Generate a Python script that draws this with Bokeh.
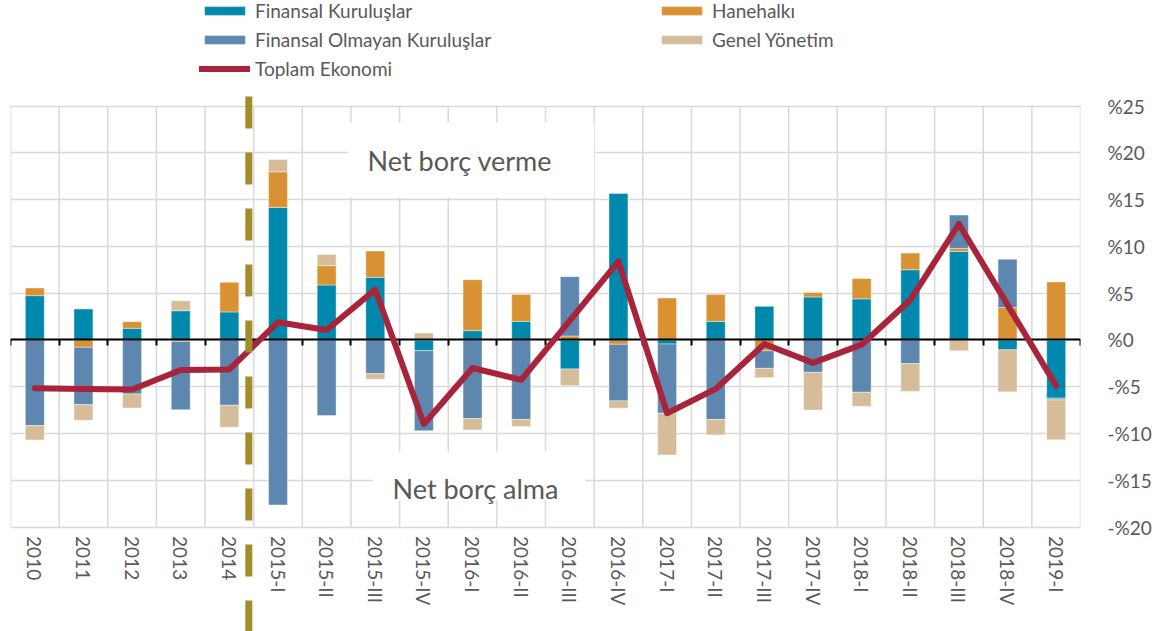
from bokeh.plotting import figure
from bokeh.models import (Range1d, LinearAxis, FixedTicker, Legend, LegendItem,
                          Label, BoxAnnotation)
from bokeh.embed import file_html
from bokeh.resources import INLINE

# ---------------- data ----------------
categories = ["2010", "2011", "2012", "2013", "2014",
              "2015-I", "2015-II", "2015-III", "2015-IV",
              "2016-I", "2016-II", "2016-III", "2016-IV",
              "2017-I", "2017-II", "2017-III", "2017-IV",
              "2018-I", "2018-II", "2018-III", "2018-IV", "2019-I"]

finansal_kuruluslar = [4.74, 3.31, 1.25, 3.13, 3.00, 14.17, 5.88, 6.70, -1.14,
                       1.00, 1.99, -3.10, 15.67, -0.43, 1.99, 3.60, 4.60,
                       4.40, 7.51, 9.47, -1.05, -6.22]
hanehalki = [0.82, -0.78, 0.71, -0.15, 3.17, 3.81, 2.07, 2.81, 0.00,
             5.45, 2.88, 0.43, -0.46, 4.49, 2.88, -1.14, 0.48,
             2.17, 1.78, 0.32, 3.47, 6.20]
finansal_olmayan = [-9.15, -6.13, -5.77, -7.30, -6.98, -17.63, -8.08, -3.60, -8.55,
                    -8.40, -8.51, 6.34, -6.05, -7.41, -8.51, -1.89, -3.46,
                    -5.59, -2.53, 3.56, 5.16, -0.18]
genel_yonetim = [-1.53, -1.67, -1.50, 1.07, -2.35, 1.32, 1.18, -0.60, 0.75,
                 -1.21, -0.75, -1.78, -0.78, -4.45, -1.64, -1.00, -4.03,
                 -1.50, -2.96, -1.15, -4.49, -4.27]
toplam_ekonomi = [-5.16, -5.23, -5.30, -3.20, -3.15, 1.90, 1.07, 5.38, -8.97,
                  -2.99, -4.27, 2.07, 8.40, -7.83, -5.23, -0.43, -2.45,
                  -0.50, 4.27, 12.40, 3.75, -4.90]

y_ticks = [-20, -15, -10, -5, 0, 5, 10, 15, 20, 25]
y_tick_labels = ["-%20", "-%15", "-%10", "-%5", "%0", "%5", "%10", "%15", "%20", "%25"]

series = [
    ("Finansal Kuruluşlar", finansal_kuruluslar, "#0089AC"),
    ("Hanehalkı", hanehalki, "#D99233"),
    ("Finansal Olmayan Kuruluşlar", finansal_olmayan, "#5D87AE"),
    ("Genel Yönetim", genel_yonetim, "#D5BD9A"),
]

# ---------------- figure ----------------
FONT = "Lato"
GRAY = "#595959"
GRID = "#D9D9D9"

n = len(categories)
xs = [i + 0.5 for i in range(n)]
boundaries = list(range(n + 1))

W, H = 1156, 631
p = figure(width=W, height=H,
           x_range=Range1d(0, n), y_range=Range1d(-31.16, 36.29),
           x_axis_location=None, y_axis_location="right",
           toolbar_location=None, output_backend="svg",
           min_border_left=10, min_border_right=76,
           min_border_top=0, min_border_bottom=0)
p.outline_line_color = None
p.background_fill_color = "white"
p.border_fill_color = "white"
p.xgrid.grid_line_color = None

yt = FixedTicker(ticks=y_ticks)
yax = p.yaxis[0]
yax.ticker = yt
yax.major_label_overrides = dict(zip(y_ticks, y_tick_labels))
yax.axis_line_color = None
yax.major_tick_line_color = None
yax.minor_tick_line_color = None
yax.major_label_standoff = 21
yax.major_label_text_font = FONT
yax.major_label_text_font_size = "19px"
yax.major_label_text_color = GRAY
p.ygrid.ticker = yt
p.ygrid.grid_line_color = GRID
p.ygrid.grid_line_width = 1.5

# vertical grid lines at category boundaries, only across the tick span
p.segment(x0=boundaries, y0=[min(y_ticks)] * len(boundaries),
          x1=boundaries, y1=[max(y_ticks)] * len(boundaries),
          line_color=GRID, line_width=1.5)

# white boxes behind the annotations
p.add_layout(BoxAnnotation(left=6.93, right=12.0, top=23.25, bottom=15.23,
                           fill_color="white", fill_alpha=1.0, line_color=None))
p.add_layout(BoxAnnotation(left=7.46, right=11.82, top=-11.92, bottom=-17.15,
                           fill_color="white", fill_alpha=1.0, line_color=None))

# stacked bars (positive and negative stacks separately)
pos_base = [0.0] * n
neg_base = [0.0] * n
bar_renderers = {}
for name, vals, color in series:
    bottoms, tops = [], []
    for i, v in enumerate(vals):
        if v >= 0:
            b = pos_base[i]
            t = b + v
            pos_base[i] = t
        else:
            b = neg_base[i]
            t = b + v
            neg_base[i] = t
        bottoms.append(b)
        tops.append(t)
    r = p.vbar(x=xs, bottom=bottoms, top=tops, width=0.39,
               fill_color=color, line_color="white", line_width=0.6, line_alpha=0.7)
    bar_renderers[name] = r

# zero axis with boundary ticks
zero_axis = LinearAxis(fixed_location=0, ticker=FixedTicker(ticks=boundaries),
                       axis_line_color="black", axis_line_width=2,
                       major_tick_in=0, major_tick_out=6,
                       major_tick_line_color="black", major_tick_line_width=2,
                       minor_tick_line_color=None, major_label_text_color=None)
p.add_layout(zero_axis, "below")

# category label axis at the bottom of the plot area
label_axis = LinearAxis(fixed_location=min(y_ticks), ticker=FixedTicker(ticks=xs),
                        major_label_overrides=dict(zip(xs, categories)),
                        axis_line_color=None, major_tick_line_color=None,
                        minor_tick_line_color=None,
                        major_tick_in=0, major_tick_out=0,
                        major_label_orientation="vertical",
                        major_label_standoff=9,
                        major_label_text_font=FONT,
                        major_label_text_font_size="19px",
                        major_label_text_color=GRAY)
p.add_layout(label_axis, "below")

# total economy line
line_r = p.line(xs, toplam_ekonomi, line_color="#A9233A", line_width=6,
                line_join="round", line_cap="round", level="annotation")

# vertical dashed separator
p.segment(x0=[4.9], y0=[26.03], x1=[4.9], y1=[-32.0],
          line_color="#A08E2A", line_width=7, line_dash="32 24", level="overlay")

# text annotations
p.add_layout(Label(x=9.24, y=19.19, text="Net borç verme", text_align="center",
                   text_baseline="alphabetic", text_font=FONT,
                   text_font_size="27px", text_color=GRAY))
p.add_layout(Label(x=9.56, y=-15.87, text="Net borç alma", text_align="center",
                   text_baseline="alphabetic", text_font=FONT,
                   text_font_size="27px", text_color=GRAY))

# legends
leg_style = dict(orientation="vertical", glyph_width=51, glyph_height=11,
                 label_standoff=5, spacing=6, padding=0, margin=0,
                 border_line_color=None, background_fill_alpha=0,
                 label_text_font=FONT, label_text_font_size="19px",
                 label_text_color=GRAY, label_height=23)
leg1 = Legend(items=[
    LegendItem(label="Finansal Kuruluşlar", renderers=[bar_renderers["Finansal Kuruluşlar"]]),
    LegendItem(label="Finansal Olmayan Kuruluşlar", renderers=[bar_renderers["Finansal Olmayan Kuruluşlar"]]),
    LegendItem(label="Toplam Ekonomi", renderers=[line_r]),
], location=(189, 551), **leg_style)
leg2 = Legend(items=[
    LegendItem(label="Hanehalkı", renderers=[bar_renderers["Hanehalkı"]]),
    LegendItem(label="Genel Yönetim", renderers=[bar_renderers["Genel Yönetim"]]),
], location=(646, 580), **leg_style)
p.add_layout(leg1, "center")
p.add_layout(leg2, "center")

with open("out.html", "w", encoding="utf-8") as f:
    f.write(file_html(p, INLINE))
